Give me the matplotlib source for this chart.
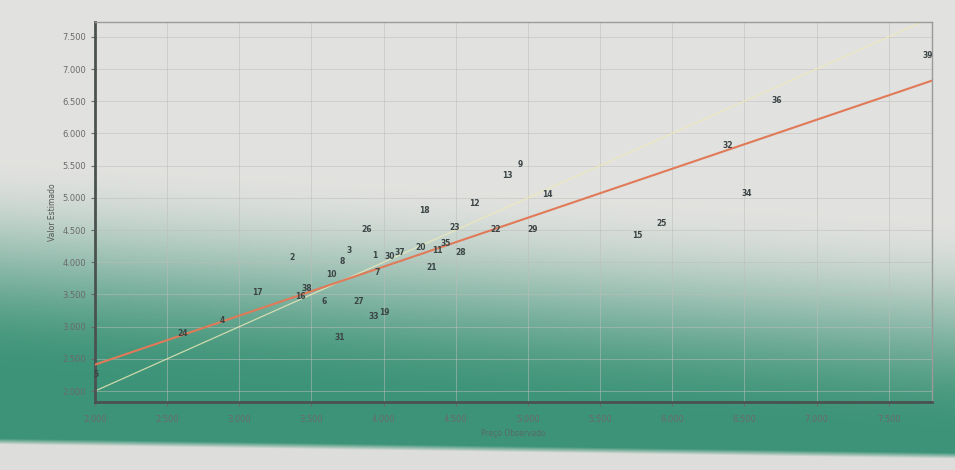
import numpy as np
import matplotlib
matplotlib.use("Agg")
import matplotlib.pyplot as plt
from matplotlib.ticker import FuncFormatter

# ---- data ----
observed = [2006, 2606, 2881, 3125, 3368, 3425, 3470, 3586, 3636, 3712,
            3762, 3697, 3829, 3885, 3940, 3956, 3930, 4005, 4043, 4110,
            4258, 4280, 4331, 4372, 4432, 4492, 4537, 4627, 4777, 4860,
            4945, 5035, 5136, 5761, 5927, 6388, 6517, 6722, 7772]
estimated = [2261, 2892, 3099, 3536, 4070, 3470, 3590, 3387, 3812, 4010,
             4175, 2833, 3390, 4505, 4110, 3838, 3155, 3215, 4090, 4150,
             4224, 4807, 3917, 4180, 4285, 4544, 4155, 4918, 4507, 5350,
             5510, 4514, 5045, 4421, 4596, 5819, 5066, 6510, 7207]
point_labels = ["5", "24", "4", "17", "2", "16", "38", "6", "10", "8",
                "3", "31", "27", "26", "1", "7", "33", "19", "30", "37",
                "20", "18", "21", "11", "35", "23", "28", "12", "22", "13",
                "9", "29", "14", "15", "25", "32", "34", "36", "39"]
regression_x = [2000, 7800]
regression_y = [2410, 6820]
identity_x = [2000, 7800]
identity_y = [2000, 7800]

x_ticks = [2000, 2500, 3000, 3500, 4000, 4500, 5000, 5500, 6000, 6500, 7000, 7500]
y_ticks = [2000, 2500, 3000, 3500, 4000, 4500, 5000, 5500, 6000, 6500, 7000, 7500]

W, H = 955, 470
fig = plt.figure(figsize=(W / 100, H / 100), dpi=100)

# ---- photographic background (grey screen fading to teal) ----
yy, xx = np.mgrid[0:H, 0:W].astype(float)
start = 155 + 0.065 * xx
t = np.clip((yy - start) / 215.0, 0, 1)
t = t * t * (3 - 2 * t)
grey = np.array([0.885, 0.885, 0.875])
green = np.array([0.24, 0.58, 0.47])
img = grey[None, None, :] * (1 - t[..., None]) + green[None, None, :] * t[..., None]
strip_edge = 438 + 0.015 * xx
s = np.clip((yy - strip_edge) / 6.0, 0, 1)
light = np.array([0.87, 0.87, 0.86])
img = img * (1 - s[..., None]) + light[None, None, :] * s[..., None]

ax_bg = fig.add_axes([0, 0, 1, 1])
ax_bg.imshow(img, aspect="auto", extent=[0, 1, 0, 1], origin="upper")
ax_bg.axis("off")
ax_bg.set_zorder(0)

# ---- main chart ----
left_px, right_px, top_px, bottom_px = 95, 932, 22, 402
ax = fig.add_axes([left_px / W, 1 - bottom_px / H,
                   (right_px - left_px) / W, (bottom_px - top_px) / H])
ax.set_zorder(1)
ax.set_facecolor("none")

ax.set_xlim(2000, 7800)
ax.set_ylim(1830, 7730)
ax.set_xticks(x_ticks)
ax.set_yticks(y_ticks)
fmt = FuncFormatter(lambda v, p: f"{v:,.0f}".replace(",", "."))
ax.xaxis.set_major_formatter(fmt)
ax.yaxis.set_major_formatter(fmt)
ax.grid(True, color="#bdbdba", linewidth=0.6, alpha=0.6)
ax.set_axisbelow(True)

ax.tick_params(axis="both", labelsize=6, colors="#6a6a6a", length=3, width=0.8)
ax.tick_params(axis="x", pad=6)
for side in ["left", "bottom"]:
    ax.spines[side].set_color("#4a5250")
    ax.spines[side].set_linewidth(2.0)
for side in ["top", "right"]:
    ax.spines[side].set_color("#9a9a98")
    ax.spines[side].set_linewidth(1.0)

ax.plot(identity_x, identity_y, color="#efeab8", linewidth=0.9, alpha=0.8, zorder=2)
ax.plot(regression_x, regression_y, color="#e07a58", linewidth=1.5, zorder=3)

for xv, yv, lab in zip(observed, estimated, point_labels):
    ax.text(xv, yv, lab, fontsize=5.5, fontweight="bold", color="#3b4545",
            ha="center", va="center", zorder=4)

ax.set_xlabel("Preço Observado", fontsize=5.5, color="#5a6a66")
ax.xaxis.set_label_coords(0.5, -0.07)
ax.set_ylabel("Valor Estimado", fontsize=5.5, color="#555555", labelpad=4)

fig.savefig("out.png", dpi=100)
